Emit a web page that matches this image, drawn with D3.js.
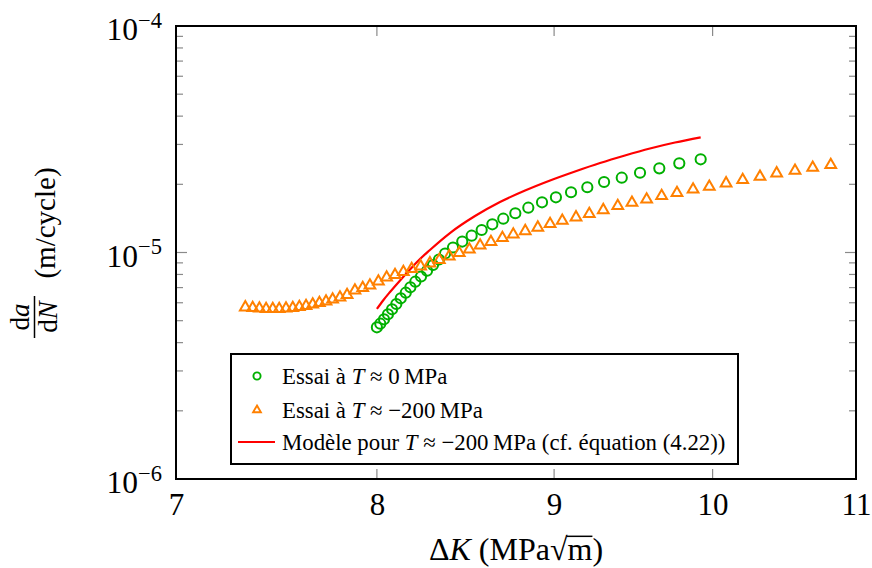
<!DOCTYPE html>
<html><head><meta charset="utf-8">
<script src="https://cdn.jsdelivr.net/npm/d3@7"></script>
<style>
body{margin:0;background:#fff}
text{font-family:"Liberation Serif","Times New Roman",serif;fill:#000}
</style>
</head><body>
<svg id="chart" width="872" height="568"></svg>
<script>
// ---------- data ----------
const xTickValues = [7, 8, 9, 10, 11];
const yTickValues = [1e-6, 1e-5, 1e-4];
const yTickExponents = ["\u22126", "\u22125", "\u22124"];

// Essai à T ≈ 0 MPa
const dK0 = [8.00, 8.018, 8.038, 8.059, 8.081, 8.104, 8.128, 8.155, 8.180, 8.207, 8.238, 8.271, 8.304, 8.337, 8.371, 8.415, 8.467, 8.520, 8.577, 8.638, 8.701, 8.771, 8.847, 8.928, 9.011, 9.102, 9.201, 9.304, 9.414, 9.529, 9.652, 9.781, 9.921];
const v0 = [4.675e-6, 4.848e-6, 5.071e-6, 5.336e-6, 5.614e-6, 5.924e-6, 6.277e-6, 6.645e-6, 7.021e-6, 7.431e-6, 7.834e-6, 8.311e-6, 8.807e-6, 9.314e-6, 9.899e-6, 1.052e-5, 1.118e-5, 1.186e-5, 1.257e-5, 1.332e-5, 1.410e-5, 1.490e-5, 1.577e-5, 1.666e-5, 1.753e-5, 1.845e-5, 1.941e-5, 2.048e-5, 2.139e-5, 2.250e-5, 2.353e-5, 2.476e-5, 2.579e-5];

// Essai à T ≈ −200 MPa
const dK200 = [7.330, 7.366, 7.399, 7.432, 7.465, 7.497, 7.531, 7.565, 7.598, 7.632, 7.666, 7.700, 7.734, 7.768, 7.806, 7.843, 7.884, 7.925, 7.963, 8.008, 8.052, 8.097, 8.142, 8.187, 8.236, 8.287, 8.339, 8.394, 8.450, 8.507, 8.568, 8.630, 8.696, 8.759, 8.829, 8.903, 8.976, 9.049, 9.132, 9.213, 9.299, 9.389, 9.478, 9.571, 9.667, 9.766, 9.871, 9.978, 10.090, 10.202, 10.320, 10.435, 10.563, 10.688, 10.817];
const v200 = [5.730e-6, 5.689e-6, 5.660e-6, 5.632e-6, 5.632e-6, 5.632e-6, 5.660e-6, 5.689e-6, 5.747e-6, 5.806e-6, 5.895e-6, 5.985e-6, 6.078e-6, 6.203e-6, 6.330e-6, 6.493e-6, 6.796e-6, 6.971e-6, 7.150e-6, 7.447e-6, 7.756e-6, 7.956e-6, 8.202e-6, 8.456e-6, 8.691e-6, 8.961e-6, 9.266e-6, 9.621e-6, 9.949e-6, 1.031e-5, 1.074e-5, 1.113e-5, 1.159e-5, 1.201e-5, 1.244e-5, 1.289e-5, 1.336e-5, 1.382e-5, 1.430e-5, 1.479e-5, 1.540e-5, 1.604e-5, 1.659e-5, 1.714e-5, 1.776e-5, 1.831e-5, 1.897e-5, 1.952e-5, 2.021e-5, 2.090e-5, 2.161e-5, 2.237e-5, 2.297e-5, 2.368e-5, 2.434e-5];

// Modèle pour T ≈ −200 MPa
const dKModel = [8.00, 8.033, 8.070, 8.124, 8.178, 8.216, 8.287, 8.398, 8.539, 8.682, 8.828, 8.976, 9.126, 9.279, 9.434, 9.592, 9.753, 9.921];
const vModel = [5.632e-6, 6.140e-6, 6.693e-6, 7.523e-6, 8.413e-6, 9.080e-6, 1.026e-5, 1.219e-5, 1.449e-5, 1.671e-5, 1.878e-5, 2.080e-5, 2.279e-5, 2.484e-5, 2.682e-5, 2.879e-5, 3.059e-5, 3.225e-5];

const legendLabels = [
  [["Essai à ", false], ["T", true], [" \u2248 0\u2009MPa", false]],
  [["Essai à ", false], ["T", true], [" \u2248 \u2212200\u2009MPa", false]],
  [["Modèle pour ", false], ["T", true], [" \u2248 \u2212200\u2009MPa (cf. équation (4.22))", false]]
];

// ---------- chart ----------
const svg = d3.select("#chart");
const L = 176, R = 856, T = 26, B = 479;
const x = d3.scaleLog().domain([7, 11]).range([L, R]);
const y = d3.scaleLog().domain([1e-6, 1e-4]).range([B, T]);

const GREEN = "#00b000", ORANGE = "#ff8000", RED = "#ff0000";
const tickCol = "#8a8a8a";

// minor y ticks
const minorY = y.ticks().filter(v => Math.abs(Math.log10(v) - Math.round(Math.log10(v))) > 1e-6);
const gTicks = svg.append("g").attr("stroke", tickCol).attr("stroke-width", 1.2);
minorY.forEach(v => {
  gTicks.append("line").attr("x1", L).attr("x2", L + 7).attr("y1", y(v)).attr("y2", y(v));
  gTicks.append("line").attr("x1", R).attr("x2", R - 7).attr("y1", y(v)).attr("y2", y(v));
});
yTickValues.forEach(v => {
  gTicks.append("line").attr("x1", L).attr("x2", L + 11).attr("y1", y(v)).attr("y2", y(v));
  gTicks.append("line").attr("x1", R).attr("x2", R - 11).attr("y1", y(v)).attr("y2", y(v));
});
xTickValues.forEach(v => {
  gTicks.append("line").attr("x1", x(v)).attr("x2", x(v)).attr("y1", B).attr("y2", B - 10);
  gTicks.append("line").attr("x1", x(v)).attr("x2", x(v)).attr("y1", T).attr("y2", T + 10);
});

// x axis labels via d3 axis
const xAxis = d3.axisBottom(x).tickValues(xTickValues).tickFormat(d3.format("d")).tickSize(0).tickPadding(14);
const gx = svg.append("g").attr("transform", `translate(0,${B})`).call(xAxis);
gx.select(".domain").remove();
gx.selectAll("text").attr("font-size", 31).attr("font-family", "Liberation Serif").attr("fill", "#000");

// y tick labels
yTickValues.forEach((v, i) => {
  const t = svg.append("text").attr("x", 162).attr("y", y(v) + 14).attr("text-anchor", "end").attr("font-size", 31.5);
  t.append("tspan").text("10");
  t.append("tspan").attr("dy", -12.5).attr("font-size", 22.5).text(yTickExponents[i]);
});

// frame
svg.append("rect").attr("x", L).attr("y", T).attr("width", R - L).attr("height", B - T)
  .attr("fill", "none").attr("stroke", "#000").attr("stroke-width", 2);

// model line
const line = d3.line().x((d, i) => x(dKModel[i])).y((d, i) => y(vModel[i])).curve(d3.curveMonotoneX);
svg.append("path").datum(dKModel).attr("d", line).attr("fill", "none").attr("stroke", RED).attr("stroke-width", 2.2);

// circles
svg.append("g").selectAll("circle").data(dK0).join("circle")
  .attr("cx", d => x(d)).attr("cy", (d, i) => y(v0[i])).attr("r", 5.1)
  .attr("fill", "none").attr("stroke", GREEN).attr("stroke-width", 2);

// triangles
const tri = d3.symbol().type(d3.symbolTriangle).size(50);
svg.append("g").selectAll("path").data(dK200).join("path")
  .attr("d", tri).attr("transform", (d, i) => `translate(${x(d)},${y(v200[i])})`)
  .attr("fill", "none").attr("stroke", ORANGE).attr("stroke-width", 2).attr("stroke-linejoin", "miter");

// legend
svg.append("rect").attr("x", 231).attr("y", 354).attr("width", 507).attr("height", 110)
  .attr("fill", "#fff").attr("stroke", "#000").attr("stroke-width", 2);
const rowY = [376, 410, 442];
svg.append("circle").attr("cx", 257).attr("cy", rowY[0]).attr("r", 3.6).attr("fill", "none").attr("stroke", GREEN).attr("stroke-width", 1.9);
svg.append("path").attr("d", d3.symbol().type(d3.symbolTriangle).size(26)).attr("transform", `translate(257,${rowY[1]})`)
  .attr("fill", "none").attr("stroke", ORANGE).attr("stroke-width", 1.9);
svg.append("line").attr("x1", 238).attr("x2", 275).attr("y1", rowY[2]).attr("y2", rowY[2]).attr("stroke", RED).attr("stroke-width", 2);
legendLabels.forEach((segs, i) => {
  const t = svg.append("text").attr("x", 282).attr("y", rowY[i] + 8).attr("font-size", 22.8);
  segs.forEach(s => t.append("tspan").attr("font-style", s[1] ? "italic" : "normal").text(s[0]));
});

// x label
const xl = svg.append("text").attr("x", 516).attr("y", 560).attr("text-anchor", "middle").attr("font-size", 32);
xl.append("tspan").text("\u0394");
xl.append("tspan").attr("font-style", "italic").text("K");
xl.append("tspan").text(" (MPa");
xl.append("tspan").text("\u221A");
xl.append("tspan").text("m");
xl.append("tspan").text(")");
// overline for sqrt
{
  const node = xl.node();
  const txt = node.textContent;
  const iS = txt.indexOf("\u221A");
  const eS = node.getExtentOfChar(iS);
  const eM = node.getExtentOfChar(iS + 1);
  const top = eS.y + eS.height * 0.12;
  svg.append("line").attr("x1", eS.x + eS.width - 1).attr("x2", eM.x + eM.width)
    .attr("y1", top + 1).attr("y2", top + 1).attr("stroke", "#000").attr("stroke-width", 1.5);
}

// y label (rotated)
const gy = svg.append("g").attr("transform", "rotate(-90)");
gy.append("text").attr("x", -317).attr("y", 29).attr("text-anchor", "middle").attr("font-size", 27)
  .call(t => { t.append("tspan").text("d"); t.append("tspan").attr("font-style", "italic").text("a"); });
gy.append("line").attr("x1", -338).attr("x2", -296).attr("y1", 34.5).attr("y2", 34.5).attr("stroke", "#000").attr("stroke-width", 1.5);
gy.append("text").attr("x", -317).attr("y", 57).attr("text-anchor", "middle").attr("font-size", 27)
  .call(t => { t.append("tspan").text("d"); t.append("tspan").attr("font-style", "italic").text("N"); });
gy.append("text").attr("x", -223).attr("y", 55).attr("text-anchor", "middle").attr("font-size", 29).text("(m/cycle)");
</script>
</body></html>
